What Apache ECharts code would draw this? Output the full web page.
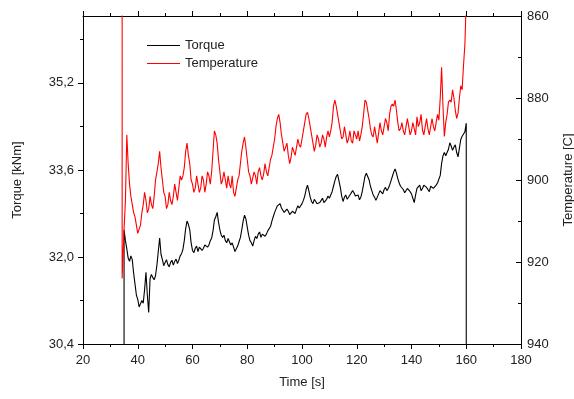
<!DOCTYPE html>
<html>
<head>
<meta charset="utf-8">
<script src="https://cdn.jsdelivr.net/npm/echarts@6/dist/echarts.min.js"></script>
<style>
  html, body { margin: 0; padding: 0; background: #fff; }
  #chart { width: 574px; height: 399px; }
</style>
</head>
<body>
<div id="chart"></div>
<script>
// time axis, one sample per second (values in between are in the *Half arrays, at t + 0.5)
const time = [35, 36, 37, 38, 39, 40, 41, 42, 43, 44, 45, 46, 47, 48, 49, 50, 51, 52, 53, 54,
  55, 56, 57, 58, 59, 60, 61, 62, 63, 64, 65, 66, 67, 68, 69, 70, 71, 72, 73, 74,
  75, 76, 77, 78, 79, 80, 81, 82, 83, 84, 85, 86, 87, 88, 89, 90, 91, 92, 93, 94,
  95, 96, 97, 98, 99, 100, 101, 102, 103, 104, 105, 106, 107, 108, 109, 110, 111, 112, 113, 114,
  115, 116, 117, 118, 119, 120, 121, 122, 123, 124, 125, 126, 127, 128, 129, 130, 131, 132, 133, 134,
  135, 136, 137, 138, 139, 140, 141, 142, 143, 144, 145, 146, 147, 148, 149, 150, 151, 152, 153, 154,
  155, 156, 157, 158, 159, 160];

const torque = [32.50, 32.15, 31.92, 31.95, 31.50, 31.22, 31.10, 31.15, 31.72, 30.98, 31.68, 31.58, 31.85, 32.35, 31.95, 31.90, 31.86, 31.90, 31.85, 31.96,
  31.94, 32.06, 32.30, 32.66, 32.50, 32.12, 32.16, 32.10, 32.20, 32.16, 32.24, 32.22, 32.35, 32.68, 32.82, 32.50, 32.36, 32.30, 32.34, 32.22,
  32.18, 32.12, 32.28, 32.50, 32.77, 32.55, 32.30, 32.20, 32.38, 32.42, 32.36, 32.44, 32.42, 32.50, 32.66, 32.82, 32.94, 32.98, 32.86, 32.80,
  32.84, 32.76, 32.82, 32.88, 32.90, 32.98, 33.12, 33.32, 33.10, 32.98, 33.02, 32.96, 33.04, 33.00, 33.06, 33.08, 33.20, 33.40, 33.52, 33.28,
  33.02, 33.14, 33.08, 33.16, 33.18, 33.10, 33.05, 33.20, 33.48, 33.56, 33.30, 33.14, 33.04, 33.16, 33.20, 33.24, 33.22, 33.32, 33.48, 33.62,
  33.44, 33.30, 33.24, 33.20, 33.24, 33.16, 33.00, 33.26, 33.32, 33.26, 33.30, 33.24, 33.30, 33.26, 33.32, 33.36, 33.72, 33.92, 33.84, 34.10,
  33.96, 34.06, 33.84, 34.16, 34.26, 34.46];

const torqueHalf = [32.30, 31.98, 32.02, 31.70, 31.30, 31.08, 31.20, 31.40, 31.30, 31.60, 31.62, 31.66, 32.10, 32.05, 31.84, 31.95, 31.82, 31.94, 31.92, 31.88,
  32.02, 32.14, 32.52, 32.60, 32.26, 32.08, 32.20, 32.18, 32.12, 32.22, 32.18, 32.30, 32.48, 32.74, 32.64, 32.40, 32.40, 32.26, 32.28, 32.26,
  32.10, 32.20, 32.36, 32.66, 32.70, 32.40, 32.26, 32.30, 32.34, 32.46, 32.42, 32.38, 32.48, 32.56, 32.74, 32.88, 32.92, 32.90, 32.82, 32.88,
  32.78, 32.84, 32.80, 32.94, 32.92, 33.04, 33.24, 33.22, 33.02, 33.06, 32.98, 33.00, 33.08, 33.02, 33.12, 33.14, 33.30, 33.48, 33.40, 33.12,
  33.10, 33.06, 33.14, 33.22, 33.12, 33.14, 33.10, 33.34, 33.54, 33.42, 33.22, 33.10, 33.10, 33.22, 33.16, 33.28, 33.26, 33.40, 33.56, 33.54,
  33.36, 33.28, 33.18, 33.26, 33.20, 33.08, 33.14, 33.28, 33.22, 33.32, 33.28, 33.20, 33.32, 33.24, 33.36, 33.50, 33.86, 33.86, 33.98, 34.04,
  34.02, 33.92, 34.00, 34.22, 34.30];

const temperature = [912, 889, 901, 906, 909, 913, 911, 906, 905, 907, 906, 904, 898, 893, 900, 904, 906, 905, 904, 903,
  902, 900, 897, 891, 896, 901, 902, 901, 902, 900, 901, 899, 898, 888, 891, 898, 900, 900, 899, 902,
  903, 902, 899, 893, 889.5, 895, 899, 901, 899, 898, 899, 898.5, 898, 897, 894, 890, 885, 886, 891, 893,
  894, 894.5, 893, 892, 891.5, 890, 886, 883.5, 887, 891, 891.5, 890, 891, 890, 889.5, 889.5, 886, 880.5, 884, 888,
  889.5, 889, 890, 890.5, 888, 890, 890.5, 887, 880.5, 883, 887.5, 889.5, 889, 888.5, 888, 887, 886, 884, 881.5, 880.5,
  886, 887.5, 888, 887, 887, 888, 887.5, 884.6, 886, 887.8, 887, 887.5, 887, 887, 886, 885.4, 872.5, 889.4, 884, 880.5,
  878, 883, 883.7, 877, 872, 856];

const temperatureHalf = [905, 896, 904, 908, 911, 912, 908, 903, 908, 904, 907, 900, 896, 897, 903, 907, 903, 906, 901, 905,
  899, 899, 893, 894, 900, 903, 899, 903, 899, 903, 898, 901, 893, 889, 895, 901, 898, 902, 901, 899,
  904, 900, 896, 891, 892, 898, 901, 898, 901, 897, 900, 896, 899, 895, 892, 887, 884, 889, 893, 891,
  896, 892, 894, 890, 892, 888, 884, 885, 889, 893, 889, 892, 889, 892, 888, 888, 882, 882, 886, 890,
  887, 891, 888, 891, 889, 888, 889, 884, 881, 885, 889, 887, 891, 886, 889, 885, 888, 882, 882, 883,
  888, 886, 889, 885, 889, 886, 889, 887, 884, 889, 885, 889, 885, 888, 884, 880, 882, 886, 881, 881,
  880, 885, 880, 878, 867];

// recorder start/stop jumps at both ends
const torqueStart = [[35, 30.0]];
const torqueEnd = [[160, 30.0]];
const tempStart = [[34.3, 850], [34.3, 924]];

const torqueMajor = [30.4, 32.0, 33.6, 35.2];
const torqueMinor = [31.2, 32.8, 34.4, 36.0];

const font = 'Liberation Sans, Arial, sans-serif';
const txt = '#222';

function interleave(full, half) {
  const out = [];
  time.forEach((t, i) => {
    out.push([t, full[i]]);
    if (i < half.length) out.push([t + 0.5, half[i]]);
  });
  return out;
}

const torqueData = torqueStart.concat(interleave(torque, torqueHalf), torqueEnd);
const tempData = tempStart.concat(interleave(temperature, temperatureHalf));

const chart = echarts.init(document.getElementById('chart'));

const baseX = {
  type: 'value', min: 20, max: 180, interval: 20,
  axisLine: { onZero: false, lineStyle: { color: '#000', width: 1 } },
  axisTick: { inside: false, length: 5, lineStyle: { color: '#000' } },
  minorTick: { show: true, splitNumber: 2, length: 3, lineStyle: { color: '#000' } },
  splitLine: { show: false }
};

chart.setOption({
  animation: false,
  backgroundColor: '#fff',
  textStyle: { fontFamily: font },
  grid: { left: 83, right: 53, top: 16, bottom: 55, outerBoundsMode: 'none', containLabel: false },
  legend: {
    orient: 'vertical', left: 147, top: 39, padding: 0,
    itemWidth: 33, itemHeight: 1, itemGap: 5, icon: 'rect',
    textStyle: { fontFamily: font, fontSize: 13, color: txt },
    data: ['Torque', 'Temperature']
  },
  xAxis: [
    Object.assign({}, baseX, {
      position: 'bottom',
      name: 'Time [s]', nameLocation: 'middle', nameGap: 32,
      nameTextStyle: { fontFamily: font, fontSize: 13, color: txt },
      axisLabel: { margin: 10, fontFamily: font, fontSize: 13, color: txt }
    }),
    Object.assign({}, baseX, {
      position: 'top',
      axisLabel: { show: false }
    })
  ],
  yAxis: [
    {
      type: 'value', position: 'left', min: 30.4, max: 36.43, interval: 1.6,
      name: 'Torque [kNm]', nameLocation: 'middle', nameRotate: 90, nameGap: 59,
      nameTextStyle: { fontFamily: font, fontSize: 13, color: txt },
      axisLine: { show: true, onZero: false, lineStyle: { color: '#000', width: 1 } },
      axisTick: { show: true, length: 5, customValues: torqueMajor, lineStyle: { color: '#000' } },
      axisLabel: {
        margin: 9, fontFamily: font, fontSize: 13, color: txt,
        customValues: torqueMajor,
        formatter: v => v.toFixed(1).replace('.', ',')
      },
      splitLine: { show: false }
    },
    {
      type: 'value', position: 'left', min: 30.4, max: 36.43, interval: 0.8,
      axisLine: { show: false },
      axisTick: { show: true, length: 3, customValues: torqueMinor, lineStyle: { color: '#000' } },
      axisLabel: { show: false },
      splitLine: { show: false }
    },
    {
      type: 'value', position: 'right', min: 860, max: 940, interval: 20, inverse: true,
      name: 'Temperature [C]', nameLocation: 'middle', nameRotate: 90, nameGap: 41,
      nameTextStyle: { fontFamily: font, fontSize: 13, color: txt },
      axisLine: { show: true, onZero: false, lineStyle: { color: '#000', width: 1 } },
      axisTick: { show: true, inside: true, length: 5, lineStyle: { color: '#000' } },
      minorTick: { show: true, splitNumber: 2, length: 3, lineStyle: { color: '#000' } },
      axisLabel: { margin: 6, fontFamily: font, fontSize: 13, color: txt },
      splitLine: { show: false }
    }
  ],
  series: [
    {
      name: 'Torque', type: 'line', xAxisIndex: 0, yAxisIndex: 0,
      data: torqueData, showSymbol: false, symbol: 'none', clip: true,
      itemStyle: { color: '#000' },
      lineStyle: { color: '#000', width: 1.1 }
    },
    {
      name: 'Temperature', type: 'line', xAxisIndex: 0, yAxisIndex: 2,
      data: tempData, showSymbol: false, symbol: 'none', clip: true,
      itemStyle: { color: '#f00' },
      lineStyle: { color: '#f00', width: 1.1 }
    }
  ]
});
</script>
</body>
</html>
